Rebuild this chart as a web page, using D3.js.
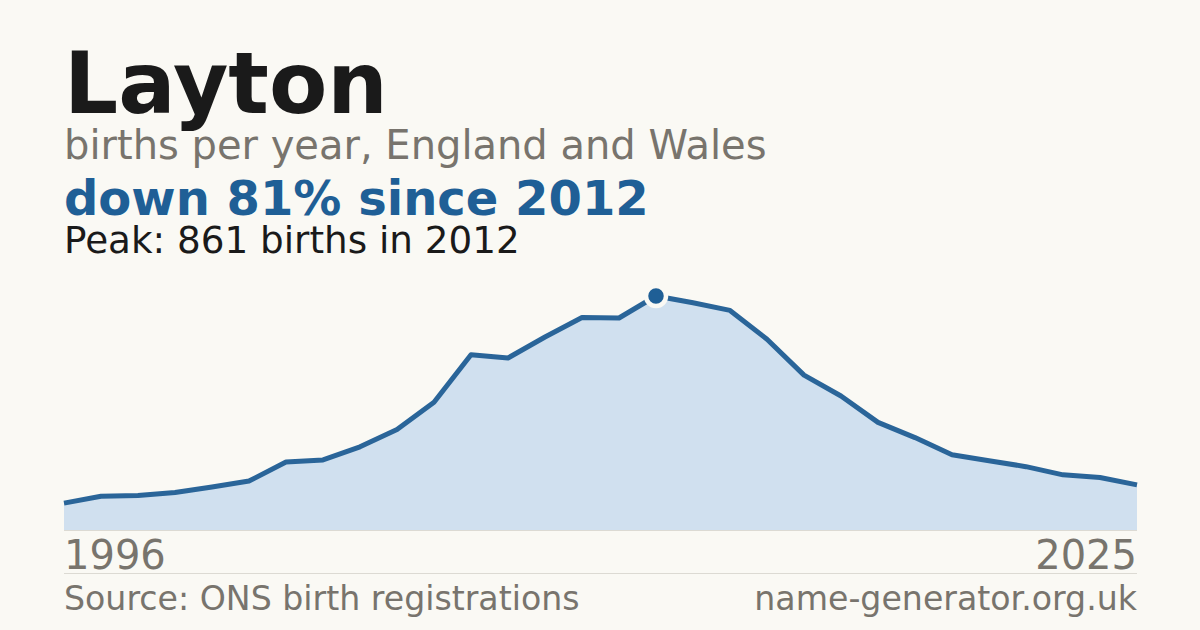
<!DOCTYPE html>
<html>
<head>
<meta charset="utf-8">
<script src="https://cdn.jsdelivr.net/npm/d3@7"></script>
<style>
  html, body { margin: 0; padding: 0; background: #faf9f4; }
  svg { display: block; font-family: "DejaVu Sans", sans-serif; }
</style>
</head>
<body>
<svg id="chart" width="1200" height="630"></svg>
<script>
// Births per year for Layton
const years = d3.range(1996, 2026);
const births = [
  99, 124, 127, 138, 158, 180, 250, 258, 306, 370,
  470, 645, 633, 710, 782, 780, 861, 836, 808, 702,
  570, 493, 396, 340, 277, 255, 233, 203, 193, 166
];
const peakYear = 2012;
const peakValue = 861;

const svg = d3.select('#chart');
const width = 1200;
const margin = { left: 64, right: 63 };
const chartTop = 296;
const chartBottom = 530;

svg.append('rect')
  .attr('width', width)
  .attr('height', 630)
  .attr('fill', '#faf9f4');

// Heading texts
svg.append('text')
  .attr('x', 64).attr('y', 113)
  .style('font-size', '85px')
  .style('font-weight', 'bold')
  .attr('fill', '#1a1a1a')
  .text('Layton');

svg.append('text')
  .attr('x', 64).attr('y', 159)
  .style('font-size', '40px')
  .attr('fill', '#78746d')
  .text('births per year, England and Wales');

svg.append('text')
  .attr('x', 64).attr('y', 215)
  .style('font-size', '48px')
  .style('font-weight', 'bold')
  .attr('fill', '#1f5f96')
  .text('down 81% since 2012');

svg.append('text')
  .attr('x', 64).attr('y', 253)
  .style('font-size', '37.3px')
  .attr('fill', '#1a1a1a')
  .text(`Peak: ${peakValue} births in ${peakYear}`);

// Scales
const x = d3.scaleLinear()
  .domain([years[0], years[years.length - 1]])
  .range([margin.left, width - margin.right]);

const y = d3.scaleLinear()
  .domain([0, d3.max(births)])
  .range([chartBottom, chartTop]);

const data = years.map((yr, i) => ({ year: yr, value: births[i] }));

// Area
const area = d3.area()
  .x(d => x(d.year))
  .y0(chartBottom)
  .y1(d => y(d.value));

svg.append('path')
  .datum(data)
  .attr('d', area)
  .attr('fill', '#d0e0ef');

// Baseline
svg.append('line')
  .attr('x1', x.range()[0]).attr('x2', x.range()[1])
  .attr('y1', chartBottom + 0.5).attr('y2', chartBottom + 0.5)
  .attr('stroke', '#dcdad3')
  .attr('stroke-width', 1);

// Line
const line = d3.line()
  .x(d => x(d.year))
  .y(d => y(d.value));

svg.append('path')
  .datum(data)
  .attr('d', line)
  .attr('fill', 'none')
  .attr('stroke', '#2a6599')
  .attr('stroke-width', 5)
  .attr('stroke-linejoin', 'round');

// Peak marker
svg.append('circle')
  .attr('cx', x(peakYear))
  .attr('cy', y(peakValue))
  .attr('r', 10)
  .attr('fill', '#1f5f96')
  .attr('stroke', '#faf9f4')
  .attr('stroke-width', 4.5);

// Year labels
svg.append('text')
  .attr('x', x.range()[0]).attr('y', 569)
  .style('font-size', '40px')
  .attr('fill', '#78746d')
  .text(years[0]);

svg.append('text')
  .attr('x', x.range()[1]).attr('y', 569)
  .attr('text-anchor', 'end')
  .style('font-size', '40px')
  .attr('fill', '#78746d')
  .text(years[years.length - 1]);

// Separator
svg.append('line')
  .attr('x1', x.range()[0]).attr('x2', x.range()[1])
  .attr('y1', 573.5).attr('y2', 573.5)
  .attr('stroke', '#dcdad3')
  .attr('stroke-width', 1);

// Footer
svg.append('text')
  .attr('x', x.range()[0]).attr('y', 610)
  .style('font-size', '33.2px')
  .attr('fill', '#78746d')
  .text('Source: ONS birth registrations');

svg.append('text')
  .attr('x', x.range()[1]).attr('y', 610)
  .attr('text-anchor', 'end')
  .style('font-size', '33.2px')
  .attr('fill', '#78746d')
  .text('name-generator.org.uk');
</script>
</body>
</html>
